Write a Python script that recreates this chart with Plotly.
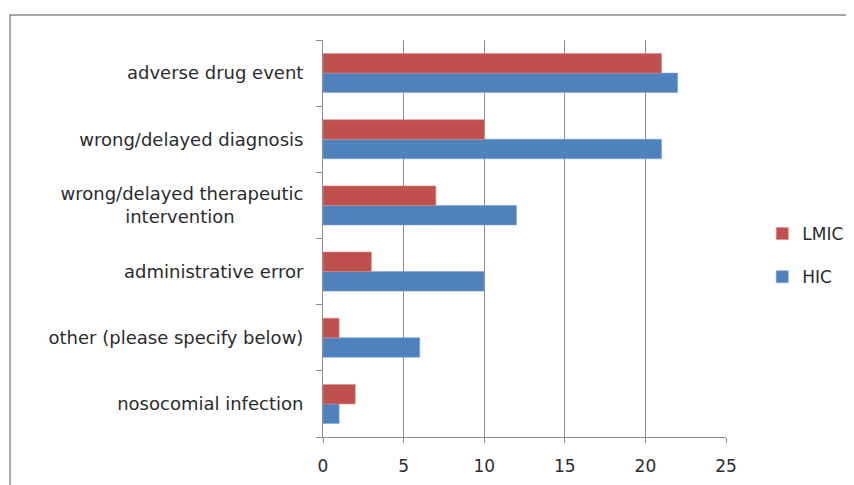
import plotly.graph_objects as go

categories = [
    "adverse drug event",
    "wrong/delayed diagnosis",
    "wrong/delayed therapeutic<br>intervention",
    "administrative error",
    "other (please specify below)",
    "nosocomial infection",
]
lmic = [21, 10, 7, 3, 1, 2]
hic = [22, 21, 12, 10, 6, 1]
x_ticks = [0, 5, 10, 15, 20, 25]

# pad the 2nd line of the multi-line label so it sits centred like the original
NB = "\u00a0"
labels = [c.replace("<br>intervention", "<br>intervention" + NB * 12) for c in categories]

# page body has an 8px margin, so figure coordinates are offset by 8px
OFF = 8
W, H = 854, 485
L, T = 323 - OFF, 40 - OFF
R, B = W - (726 - OFF), H - (437 - OFF)
pw, ph = W - L - R, H - T - B

fig = go.Figure()
fig.add_trace(go.Bar(y=labels, x=hic, name="HIC", orientation="h", legendgroup="HIC",
                     legendrank=2,
                     marker=dict(color="#4F81BD", line=dict(color="#7FA3D3", width=0.6))))
fig.add_trace(go.Bar(y=labels, x=lmic, name="LMIC", orientation="h", legendgroup="LMIC",
                     legendrank=1,
                     marker=dict(color="#C0504D", line=dict(color="#D68A88", width=0.6))))

font = dict(family="DejaVu Sans", size=17, color="#2b2b2b")
catfont = dict(family="DejaVu Sans", size=18, color="#2b2b2b")

fig.update_layout(
    width=W, height=H,
    margin=dict(l=L, r=R, t=T, b=B, autoexpand=False),
    paper_bgcolor="white", plot_bgcolor="white",
    barmode="group", bargap=0.41, bargroupgap=0,
    font=font,
    showlegend=True,
    legend=dict(x=1.09, y=0.457, xanchor="left", yanchor="middle",
                traceorder="grouped", tracegroupgap=18, font=font,
                bgcolor="rgba(0,0,0,0)"),
    xaxis=dict(range=[0, 25], tickvals=x_ticks, showgrid=True, gridcolor="#8C8C8C",
               gridwidth=1, showline=True, linecolor="#8C8C8C", linewidth=1,
               ticks="outside", ticklen=5, tickcolor="#8C8C8C", zeroline=False,
               tickfont=font, ticklabelstandoff=9, fixedrange=True, automargin=False),
    yaxis=dict(categoryorder="array", categoryarray=list(reversed(labels)),
               showgrid=False, showline=True, linecolor="#8C8C8C", linewidth=1,
               ticks="outside", ticklen=6, tickcolor="#8C8C8C", tickson="boundaries",
               tickfont=catfont, ticklabelstandoff=15, fixedrange=True, automargin=False),
    shapes=[dict(type="rect", xref="paper", yref="paper",
                 x0=(10 - OFF - L) / pw, x1=(W + 10 - L) / pw,
                 y0=(T + ph - (H + 10)) / ph, y1=(T + ph - (15 - OFF)) / ph,
                 line=dict(color="#8C8C8C", width=1.5), fillcolor="rgba(0,0,0,0)",
                 layer="below")],
)

fig.write_html("out.html")
